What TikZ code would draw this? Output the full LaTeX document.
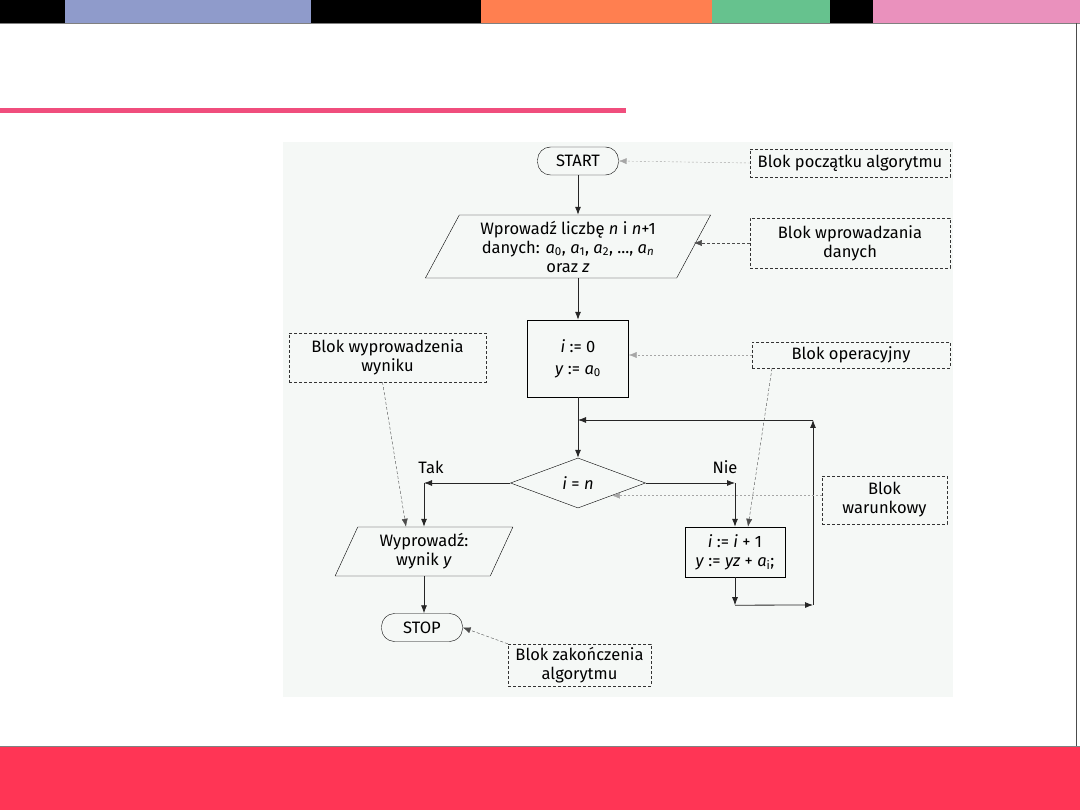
\documentclass[tikz,border=0pt]{standalone}
\usepackage{fontspec}
\setmainfont{Fira Sans}
\usetikzlibrary{shapes.geometric, arrows.meta, positioning, calc}
\definecolor{barblue}{RGB}{143,155,203}
\definecolor{barorange}{RGB}{255,127,80}
\definecolor{bargreen}{RGB}{102,194,142}
\definecolor{barpink}{RGB}{234,145,189}
\definecolor{titlered}{RGB}{240,78,125}
\definecolor{footred}{RGB}{255,53,85}
\definecolor{chartbg}{RGB}{245,248,246}
\tikzset{
  chartfont/.style={font=\fontsize{16.5}{19}\selectfont},
  term/.style={draw, chartfont, rounded corners=13pt, minimum width=81pt, minimum height=28pt, inner sep=0pt},
  proc/.style={draw, chartfont, align=center, inner sep=0pt},
  io/.style={draw, chartfont, align=center, trapezium, trapezium stretches=true, inner sep=0pt},
  decision/.style={draw, chartfont, diamond, aspect=2.7, minimum width=135pt, minimum height=50pt, inner sep=0pt},
  note/.style={draw, chartfont, dashed, dash pattern=on 3pt off 2pt, black!80, text=black, align=center, inner sep=0pt},
  lbl/.style={chartfont},
  flow/.style={->, black!85, thick},
  notedash/.style={->, dashed, dash pattern=on 3pt off 2pt, black!70},
  notedot/.style={->, dash pattern=on 2pt off 2pt, gray!70}
}

\begin{document}
\begin{tikzpicture}[x=1pt, y=-1pt, >={Latex[length=8pt,width=6pt]}]
  \useasboundingbox (0,0) rectangle (1080,810);

  % Top colour bar
  \fill[black] (0,0) rectangle (65,23);
  \fill[barblue] (65,0) rectangle (311,23);
  \fill[black] (311,0) rectangle (481,23);
  \fill[barorange] (481,0) rectangle (712,23);
  \fill[bargreen] (712,0) rectangle (830,23);
  \fill[black] (830,0) rectangle (873,23);
  \fill[barpink] (873,0) rectangle (1080,23);
  \draw[gray, thin] (0,23.5) -- (1080,23.5);

  % Title underline and right edge
  \fill[titlered] (0,108) rectangle (626,113);
  \draw[black!70, thin] (1076.5,23) -- (1076.5,746);

  % Bottom bar
  \draw[gray] (0,746.5) -- (1080,746.5);
  \fill[footred] (0,747) rectangle (1080,810);

  % Chart background
  \fill[chartbg] (283,142) rectangle (953,697);

  % Flowchart blocks
  \node[term] (start) at (578,161) {START};
  \node[io, trapezium left angle=62, trapezium right angle=118,
        minimum width=286pt, minimum height=63pt] (input) at (568,246.5)
    {Wprowadź liczbę \textit{n} i \textit{n}+1\\
     danych: \textit{a}\textsubscript{0}, \textit{a}\textsubscript{1}, \textit{a}\textsubscript{2}, ..., \textit{a}\textsubscript{\textit{n}}\\
     oraz \textit{z}};
  \node[proc, minimum width=101pt, minimum height=77pt] (init) at (578,358.5)
    {\textit{i} := 0\\[3pt]\textit{y} := \textit{a}\textsubscript{0}};
  \node[decision] (cond) at (578,483) {\textit{i} = \textit{n}};
  \node[io, trapezium left angle=67, trapezium right angle=113,
        minimum width=178pt, minimum height=49pt] (output) at (424,551.5)
    {Wyprowadź:\\wynik \textit{y}};
  \node[proc, minimum width=100pt, minimum height=50pt] (update) at (735,552)
    {\textit{i} := \textit{i} + 1\\\textit{y} := \textit{yz} + \textit{a}\textsubscript{i};};
  \node[term] (stop) at (422,627.5) {STOP};

  % Branch labels
  \node[lbl] (tak) at (431,467) {Tak};
  \node[lbl] (nie) at (725,467) {Nie};

  % Notes
  \node[note, minimum width=200pt, minimum height=28pt] (nStart) at (850,163) {Blok początku algorytmu};
  \node[note, minimum width=200pt, minimum height=50pt] (nInput) at (850,243) {Blok wprowadzania\\danych};
  \node[note, minimum width=198pt, minimum height=26pt] (nOper) at (851,355) {Blok operacyjny};
  \node[note, minimum width=197pt, minimum height=49pt] (nOutput) at (387.5,357.5) {Blok wyprowadzenia\\wyniku};
  \node[note, minimum width=125pt, minimum height=48pt] (nCond) at (884.5,500) {Blok\\warunkowy};
  \node[note, minimum width=143pt, minimum height=42pt] (nStop) at (579.5,665) {Blok zakończenia\\algorytmu};

  % Bend points
  \coordinate (yes) at (output.north |- cond.west);
  \coordinate (no) at (update.north |- cond.east);
  \coordinate (back1) at ($(update.south)+(0,28)$);
  \coordinate (back2) at (813,605);
  \coordinate (back3) at (813,420);
  \coordinate (back4) at (init.south |- back3);

  % Flow
  \draw[flow] (start.south) -- (start.south |- input.north);
  \draw[flow] (init.north |- input.south) -- (init.north);
  \draw[flow] (init.south) -- (cond.north);
  \draw[flow] (cond.west) -- (yes);
  \draw[flow] (yes) -- (output.north);
  \draw[flow] (cond.east) -- (no);
  \draw[flow] (no) -- (update.north);
  \draw[flow] (update.south) -- (back1);
  \draw[flow] (back1) -- (back2);
  \draw[flow] (back2) -- (back3);
  \draw[flow] (back3) -- (back4);
  \draw[flow] (output.south) -- (output.south |- stop.north);

  % Note pointers
  \draw[notedot] (nStart.west) -- (start.east);
  \draw[notedash] (nInput.west) -- (nInput.west -| input.east);
  \draw[notedot] (nOper.west) -- (nOper.west -| init.east);
  \draw[notedash] ([xshift=-79pt]nOper.south) -- ([xshift=13pt]update.north);
  \draw[notedash] ([xshift=-5pt]nOutput.south) -- ([xshift=-18pt]output.north);
  \draw[notedot] (nCond.west |- cond.south east) -- (cond.south east);
  \draw[notedash] (nStop.north west) -- (stop.east);
\end{tikzpicture}
\end{document}
